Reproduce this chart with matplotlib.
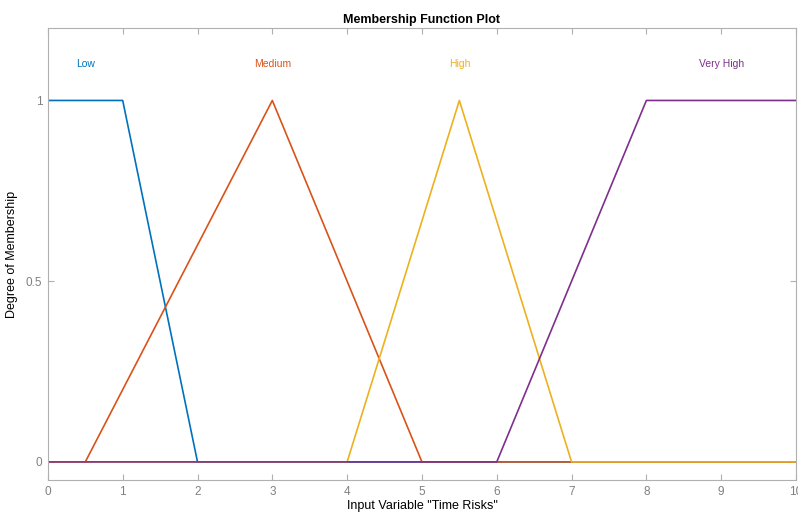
import matplotlib.pyplot as plt

plt.rcParams['font.family'] = ['Liberation Sans', 'DejaVu Sans']

# membership function vertices over the input range 0..10
names = ['Low', 'Medium', 'High', 'Very High']
low_x = [0, 1, 2, 10]
low_y = [1, 1, 0, 0]
medium_x = [0, 0.5, 3, 5, 10]
medium_y = [0, 0, 1, 0, 0]
high_x = [0, 4, 5.5, 7, 10]
high_y = [0, 0, 1, 0, 0]
vhigh_x = [0, 6, 8, 10]
vhigh_y = [0, 0, 1, 1]
label_x = [0.5, 3, 5.5, 9]

colors = ['#0072BD', '#D95319', '#EDB120', '#7E2F8E']
axis_gray = '#b0b0b0'

fig = plt.figure(figsize=(7.98, 5.12), dpi=100)
ax = fig.add_axes([0.060, 0.0625, 0.9375, 0.8825])

series = [(low_x, low_y), (medium_x, medium_y), (high_x, high_y), (vhigh_x, vhigh_y)]
for (xs, ys), name, c, lx in zip(series, names, colors, label_x):
    ax.plot(xs, ys, color=c, linewidth=1.2)
    ax.text(lx, 1.1, name, color=c, ha='center', va='center', fontsize=7.5)

ax.set_xlim(0, 10)
ax.set_ylim(-0.05, 1.2)
ax.set_xticks(range(0, 11))
ax.set_yticks([0, 0.5, 1])
ax.set_yticklabels(['0', '0.5', '1'])

for sp in ax.spines.values():
    sp.set_color(axis_gray)
    sp.set_linewidth(0.8)
ax.tick_params(direction='in', top=True, right=True, length=4, width=0.8,
               color=axis_gray, labelcolor='#808080', labelsize=8.5)
ax.tick_params(axis='x', pad=4)
ax.tick_params(axis='y', pad=4)

ax.set_title('Membership Function Plot', fontsize=9, fontweight='bold', pad=4)
ax.set_xlabel('Input Variable "Time Risks"', fontsize=9)
ax.set_ylabel('Degree of Membership', fontsize=9)
ax.xaxis.set_label_coords(0.5, -0.044)
ax.yaxis.set_label_coords(-0.04, 0.5)

fig.savefig('out.png', dpi=100)
